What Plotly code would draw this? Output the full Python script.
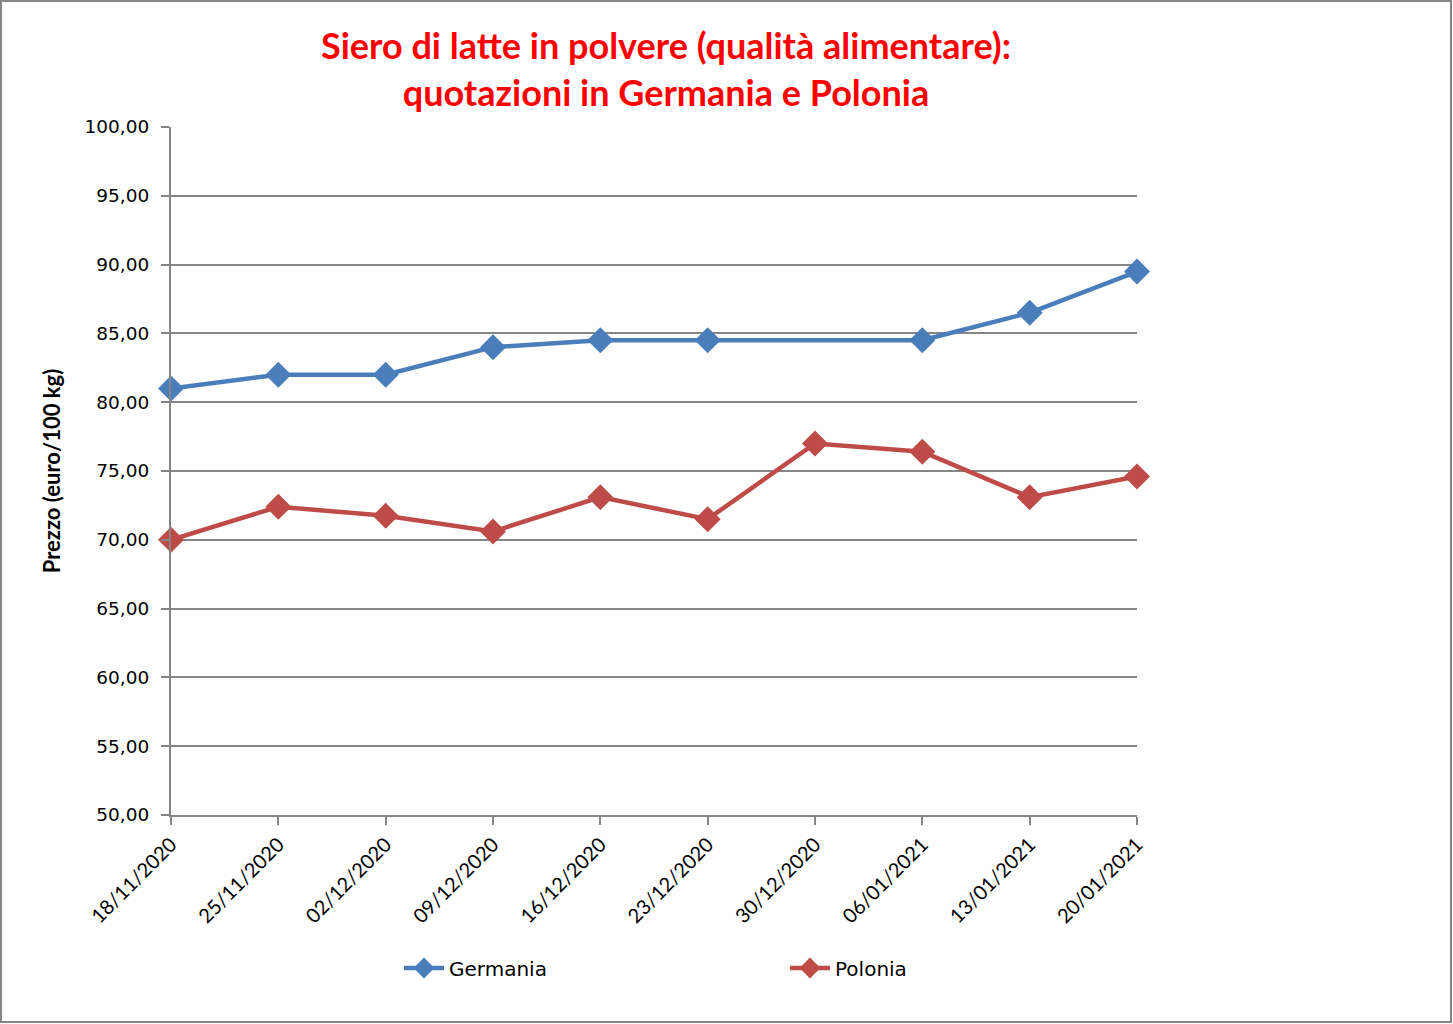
import plotly.graph_objects as go

dates = ["18/11/2020", "25/11/2020", "02/12/2020", "09/12/2020", "16/12/2020",
         "23/12/2020", "30/12/2020", "06/01/2021", "13/01/2021", "20/01/2021"]
germania = [81.0, 82.0, 82.0, 84.0, 84.5, 84.5, None, 84.5, 86.5, 89.5]
polonia = [70.0, 72.4, 71.75, 70.6, 73.1, 71.5, 77.0, 76.4, 73.1, 74.6]
y_ticks = [50, 55, 60, 65, 70, 75, 80, 85, 90, 95, 100]

W, H = 1453, 1024
L, R, T, B = 171, 1137, 127, 815
pw, ph = R - L, B - T

fig = go.Figure()
fig.add_trace(go.Scatter(
    x=dates, y=germania, name="Germania", mode="lines+markers", connectgaps=True,
    line=dict(color="#4A7EBB", width=4.5),
    marker=dict(symbol="diamond", size=20, color="#4A7EBB"),
    cliponaxis=False))
fig.add_trace(go.Scatter(
    x=dates, y=polonia, name="Polonia", mode="lines+markers",
    line=dict(color="#BE4B48", width=4.5),
    marker=dict(symbol="diamond", size=20, color="#BE4B48"),
    cliponaxis=False))

def px_x(x):
    return (x - L) / pw

def px_y(y):
    return (B - y) / ph

fig.add_shape(type="rect", xref="paper", yref="paper",
              x0=px_x(1), x1=px_x(W - 2), y0=px_y(H - 2), y1=px_y(1),
              line=dict(color="#868686", width=2), layer="below")

fig.update_layout(
    width=W, height=H,
    margin=dict(l=L, r=W - R, t=T, b=H - B, pad=0),
    paper_bgcolor="white", plot_bgcolor="white",
    separators=",.",
    showlegend=True,
    title=dict(
        text="Siero di latte in polvere (qualità alimentare):<br>quotazioni in Germania e Polonia",
        x=666 / W, xanchor="center", y=1 - 59 / H, yanchor="middle",
        font=dict(family="Lato", size=36, color="#FF0000", weight="bold")),
    xaxis=dict(
        type="category", range=[0, 9],
        showgrid=False, showline=True, linecolor="#868686", linewidth=2,
        ticks="outside", ticklen=8, tickcolor="#868686", tickwidth=2,
        tickangle=-45, tickfont=dict(family="Lato", size=20, color="black"),
        zeroline=False),
    yaxis=dict(
        range=[50, 100], tickvals=y_ticks, tickformat=".2f",
        showgrid=True, gridcolor="#868686", gridwidth=2,
        showline=True, linecolor="#868686", linewidth=2,
        ticks="outside", ticklen=8, tickcolor="#868686", tickwidth=2,
        ticklabelstandoff=8,
        tickfont=dict(family="DejaVu Sans", size=18.5, color="black"),
        title=dict(text="Prezzo (euro/100 kg)", standoff=18,
                   font=dict(family="Lato", size=22, color="black", weight="bold")),
        zeroline=False),
    legend=dict(
        orientation="h", x=px_x(399), xanchor="left", y=px_y(968), yanchor="middle",
        itemwidth=40, entrywidth=331, entrywidthmode="pixels",
        font=dict(family="DejaVu Sans", size=20, color="black"),
        bgcolor="rgba(0,0,0,0)"),
)

fig.write_html("out.html", config={"displayModeBar": False},
               post_script="document.body.style.margin='0';document.body.style.overflow='hidden';")
